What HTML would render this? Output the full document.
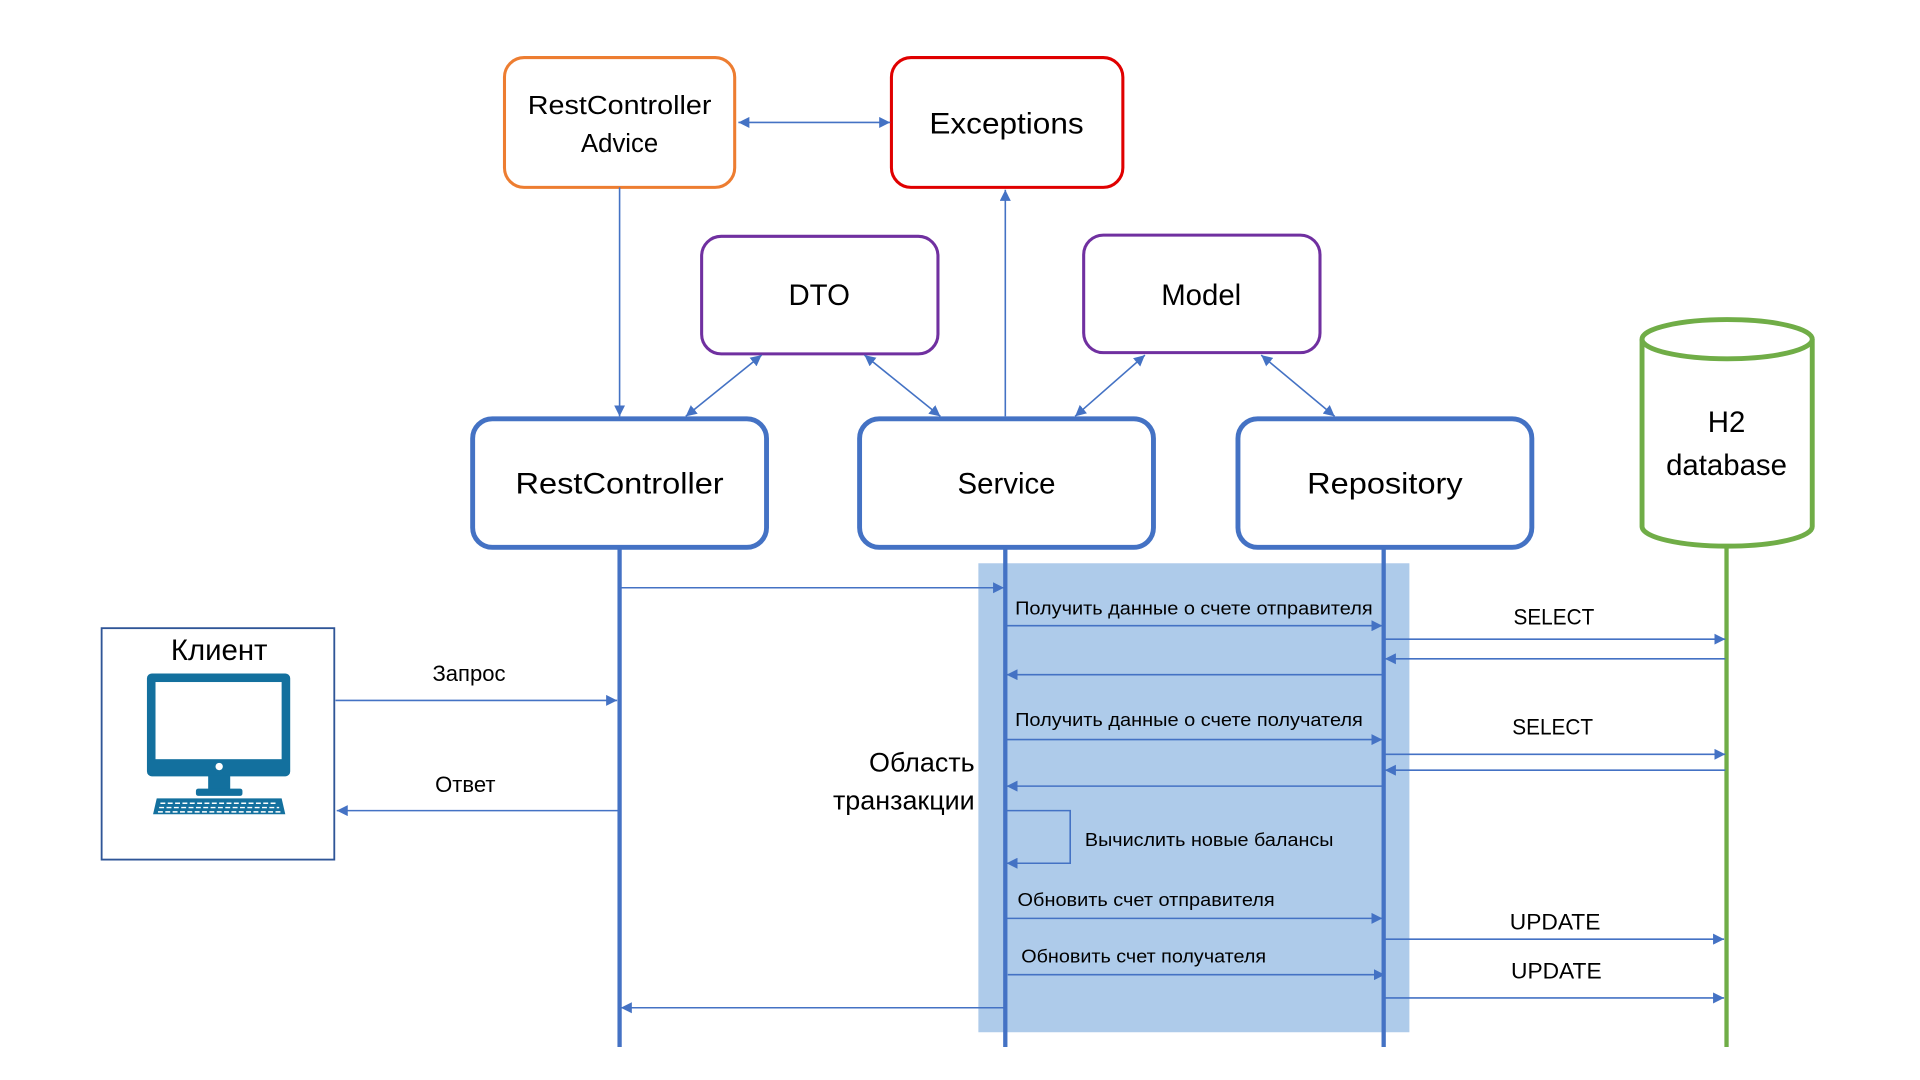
<!DOCTYPE html>
<html><head><meta charset="utf-8"><style>html,body{margin:0;padding:0;background:#fff;}svg{display:block}</style></head>
<body>
<svg width="1920" height="1080" viewBox="0 0 1568 882" preserveAspectRatio="none" xmlns="http://www.w3.org/2000/svg" font-family="'Liberation Sans', sans-serif">
<defs>
<marker id="a" viewBox="0 0 10 10" refX="10" refY="5" markerWidth="9" markerHeight="9" markerUnits="userSpaceOnUse" orient="auto-start-reverse"><path d="M0,0 L10,5 L0,10 z" fill="#4472C4"/></marker>
</defs>
<rect x="799" y="460" width="352" height="383" fill="#AECBEA"/>
<rect x="412" y="47" width="188" height="106" rx="16" fill="#fff" stroke="#ED7D31" stroke-width="2.5"/>
<text x="506" y="93" font-size="21" text-anchor="middle" textLength="150" lengthAdjust="spacingAndGlyphs">RestController</text>
<text x="506" y="124" font-size="21" text-anchor="middle">Advice</text>
<rect x="728" y="47" width="189" height="106" rx="16" fill="#fff" stroke="#E00000" stroke-width="2.5"/>
<text x="822" y="109" font-size="24" text-anchor="middle" textLength="126" lengthAdjust="spacingAndGlyphs">Exceptions</text>
<rect x="573" y="193" width="193" height="96" rx="16" fill="#fff" stroke="#7030A0" stroke-width="2.5"/>
<text x="669" y="249" font-size="24" text-anchor="middle">DTO</text>
<rect x="885" y="192" width="193" height="96" rx="16" fill="#fff" stroke="#7030A0" stroke-width="2.5"/>
<text x="981" y="249" font-size="24" text-anchor="middle">Model</text>
<g fill="#fff" stroke="#4472C4" stroke-width="4">
<rect x="386" y="342" width="240" height="105" rx="16"/>
<rect x="702" y="342" width="240" height="105" rx="16"/>
<rect x="1011" y="342" width="240" height="105" rx="16"/>
</g>
<text x="506" y="403" font-size="24" text-anchor="middle" textLength="170" lengthAdjust="spacingAndGlyphs">RestController</text>
<text x="822" y="403" font-size="24" text-anchor="middle">Service</text>
<text x="1131" y="403" font-size="24" text-anchor="middle" textLength="127" lengthAdjust="spacingAndGlyphs">Repository</text>
<path d="M1341,277 L1341,430 A69.5,16 0 0 0 1480,430 L1480,277" fill="#fff" stroke="#70AD47" stroke-width="4"/>
<ellipse cx="1410.5" cy="277" rx="69.5" ry="16" fill="#fff" stroke="#70AD47" stroke-width="4"/>
<text x="1410" y="353" font-size="24" text-anchor="middle">H2</text>
<text x="1410" y="388" font-size="24" text-anchor="middle">database</text>
<g stroke="#4472C4" stroke-width="3.5">
<line x1="506" y1="447" x2="506" y2="855"/>
<line x1="821" y1="447" x2="821" y2="855"/>
<line x1="1130" y1="447" x2="1130" y2="855"/>
</g>
<line x1="1410" y1="446" x2="1410" y2="855" stroke="#70AD47" stroke-width="3.5"/>
<g stroke="#4472C4" stroke-width="1.3" fill="none" marker-end="url(#a)">
<line x1="603" y1="100" x2="727" y2="100" marker-start="url(#a)"/>
<line x1="506" y1="153" x2="506" y2="340"/>
<line x1="821" y1="340" x2="821" y2="155"/>
<line x1="560" y1="340" x2="622" y2="290" marker-start="url(#a)"/>
<line x1="706" y1="290" x2="768" y2="340" marker-start="url(#a)"/>
<line x1="878" y1="340" x2="935" y2="290" marker-start="url(#a)"/>
<line x1="1030" y1="290" x2="1090" y2="340" marker-start="url(#a)"/>
<line x1="507" y1="480" x2="820" y2="480"/>
<line x1="822" y1="511" x2="1129" y2="511"/>
<line x1="1131" y1="522" x2="1409" y2="522"/>
<line x1="1409" y1="538" x2="1131" y2="538"/>
<line x1="1129" y1="551" x2="822" y2="551"/>
<line x1="822" y1="604" x2="1129" y2="604"/>
<line x1="1131" y1="616" x2="1409" y2="616"/>
<line x1="1409" y1="629" x2="1131" y2="629"/>
<line x1="1129" y1="642" x2="822" y2="642"/>
<path d="M822,662 L874,662 L874,705 L822,705"/>
<line x1="822" y1="750" x2="1129" y2="750"/>
<line x1="1131" y1="767" x2="1408" y2="767"/>
<line x1="823" y1="796" x2="1131" y2="796"/>
<line x1="1131" y1="815" x2="1408" y2="815"/>
<line x1="820" y1="823" x2="507" y2="823"/>
<line x1="274" y1="572" x2="504" y2="572"/>
<line x1="505" y1="662" x2="275" y2="662"/>
</g>
<g font-size="15" fill="#000">
<text x="829" y="502" textLength="292" lengthAdjust="spacingAndGlyphs">Получить данные о счете отправителя</text>
<text x="829" y="593" textLength="284" lengthAdjust="spacingAndGlyphs">Получить данные о счете получателя</text>
<text x="886" y="691" textLength="203" lengthAdjust="spacingAndGlyphs">Вычислить новые балансы</text>
<text x="831" y="740" textLength="210" lengthAdjust="spacingAndGlyphs">Обновить счет отправителя</text>
<text x="834" y="786" textLength="200" lengthAdjust="spacingAndGlyphs">Обновить счет получателя</text>
</g>
<g font-size="18" text-anchor="middle">
<text x="1269" y="510" textLength="66" lengthAdjust="spacingAndGlyphs">SELECT</text>
<text x="1268" y="600" textLength="66" lengthAdjust="spacingAndGlyphs">SELECT</text>
<text x="1270" y="759" textLength="74" lengthAdjust="spacingAndGlyphs">UPDATE</text>
<text x="1271" y="799" textLength="74" lengthAdjust="spacingAndGlyphs">UPDATE</text>
<text x="383" y="556">Запрос</text>
<text x="380" y="647">Ответ</text>
</g>
<g font-size="22" text-anchor="end">
<text x="796" y="630">Область</text>
<text x="796" y="661">транзакции</text>
</g>
<rect x="83" y="513" width="190" height="189" fill="#fff" stroke="#2F5597" stroke-width="1.5"/>
<text x="179" y="539" font-size="24" text-anchor="middle">Клиент</text>
<g fill="#13709E">
<rect x="120" y="550" width="117" height="84" rx="4"/>
<rect x="170" y="633" width="18" height="12"/>
<rect x="160" y="644" width="38" height="6" rx="2"/>
<path d="M128,652 L230,652 L233,665 L125,665 z"/>
</g>
<rect x="127" y="557" width="103" height="63" fill="#fff"/>
<circle cx="179" cy="626" r="3" fill="#fff"/>
<g stroke="#fff" stroke-width="1.2" stroke-dasharray="4,2">
<line x1="131" y1="656" x2="227" y2="656"/>
<line x1="130" y1="659.5" x2="228" y2="659.5"/>
<line x1="129" y1="663" x2="229" y2="663"/>
</g>
</svg>
</body></html>
